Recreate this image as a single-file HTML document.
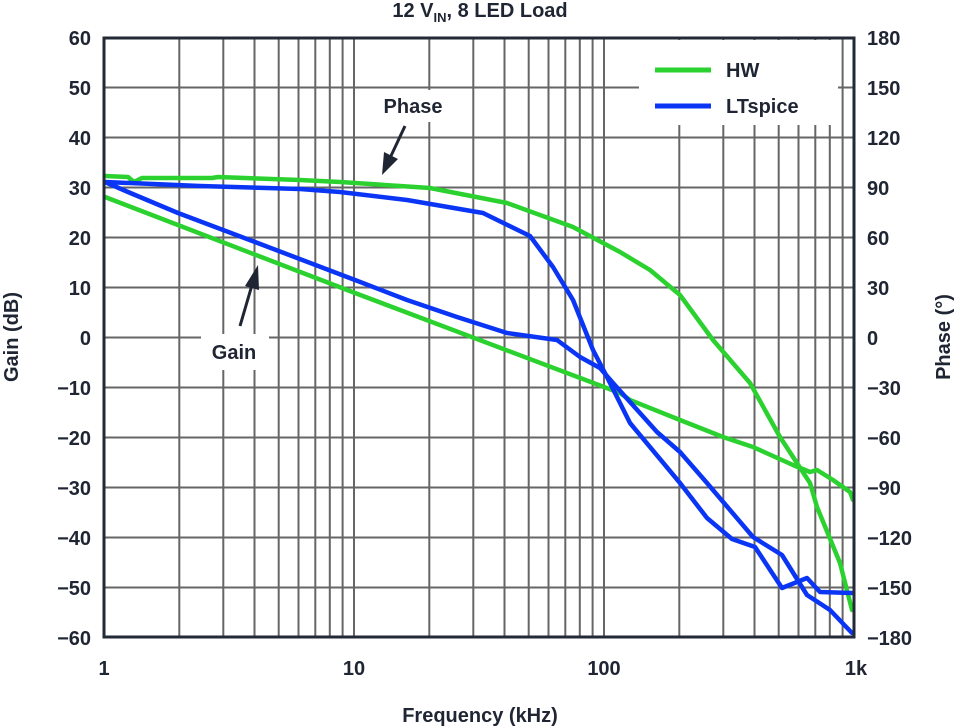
<!DOCTYPE html>
<html><head><meta charset="utf-8"><style>
html,body{margin:0;padding:0;background:#fff;}
svg{display:block;font-family:"Liberation Sans",sans-serif;font-weight:bold;}
</style></head><body>
<svg width="957" height="728" viewBox="0 0 957 728" xmlns="http://www.w3.org/2000/svg">
<rect width="957" height="728" fill="#fff"/>
<g stroke="#666" stroke-width="2">
<!-- horizontal grid -->
<line x1="104" x2="854" y1="87.5" y2="87.5"/><line x1="104" x2="854" y1="137.5" y2="137.5"/>
<line x1="104" x2="854" y1="187.5" y2="187.5"/><line x1="104" x2="854" y1="237.5" y2="237.5"/>
<line x1="104" x2="854" y1="287.5" y2="287.5"/><line x1="104" x2="854" y1="337.5" y2="337.5"/>
<line x1="104" x2="854" y1="387.5" y2="387.5"/><line x1="104" x2="854" y1="437.5" y2="437.5"/>
<line x1="104" x2="854" y1="487.5" y2="487.5"/><line x1="104" x2="854" y1="537.5" y2="537.5"/>
<line x1="104" x2="854" y1="587.5" y2="587.5"/>
<!-- vertical grid -->
<line x1="179.3" x2="179.3" y1="38" y2="637"/><line x1="223.3" x2="223.3" y1="38" y2="637"/><line x1="254.5" x2="254.5" y1="38" y2="637"/><line x1="278.7" x2="278.7" y1="38" y2="637"/><line x1="298.5" x2="298.5" y1="38" y2="637"/><line x1="315.3" x2="315.3" y1="38" y2="637"/><line x1="329.8" x2="329.8" y1="38" y2="637"/><line x1="342.6" x2="342.6" y1="38" y2="637"/>
<line x1="354" x2="354" y1="38" y2="637"/>
<line x1="429.3" x2="429.3" y1="38" y2="637"/><line x1="473.3" x2="473.3" y1="38" y2="637"/><line x1="504.5" x2="504.5" y1="38" y2="637"/><line x1="528.7" x2="528.7" y1="38" y2="637"/><line x1="548.5" x2="548.5" y1="38" y2="637"/><line x1="565.3" x2="565.3" y1="38" y2="637"/><line x1="579.8" x2="579.8" y1="38" y2="637"/><line x1="592.6" x2="592.6" y1="38" y2="637"/>
<line x1="604" x2="604" y1="38" y2="637"/>
<line x1="679.3" x2="679.3" y1="38" y2="637"/><line x1="723.3" x2="723.3" y1="38" y2="637"/><line x1="754.5" x2="754.5" y1="38" y2="637"/><line x1="778.7" x2="778.7" y1="38" y2="637"/><line x1="798.5" x2="798.5" y1="38" y2="637"/><line x1="815.3" x2="815.3" y1="38" y2="637"/><line x1="829.8" x2="829.8" y1="38" y2="637"/><line x1="842.6" x2="842.6" y1="38" y2="637"/>
</g>
<!-- white boxes -->
<rect x="639" y="40" width="199" height="85" fill="#fff"/>
<rect x="376" y="90" width="76" height="32" fill="#fff"/>
<rect x="201" y="334" width="68" height="36" fill="#fff"/>
<!-- curves -->
<g fill="none" stroke-width="4.5" stroke-linejoin="round" stroke-linecap="round">
<polyline stroke="#2bd12f" points="105,197 355,293 620,393 630,400 680,420 723,437 753,447 793,465 810,472 817,470 833,480 850,492 853,500"/>
<polyline stroke="#2bd12f" points="105,176 128,177 134,182 142,178 212,178 218,177 300,180 340,182 430,188 507,203 573,227 620,252 650,270 680,295 713,340 750,383 780,437 810,483 817,507 840,563 852,610"/>
<polyline stroke="#0a35f5" points="105,182 128,192 178,213 255,242 355,280 407,300 457,317 507,333 557,340 580,357 600,368 613,383 657,432 680,452 707,483 753,537 782,555 807,595 830,610 852,633"/>
<polyline stroke="#0a35f5" points="105,182 200,186 300,189 340,192 407,200 483,213 530,236 553,267 573,300 593,350 607,377 630,423 680,483 707,518 732,539 755,547 782,588 807,578 820,592 852,593"/>
</g>
<!-- frame -->
<rect x="104" y="38" width="750" height="599" fill="none" stroke="#222a36" stroke-width="3"/>
<!-- legend -->
<line x1="655" x2="711" y1="70" y2="70" stroke="#2bd12f" stroke-width="5"/>
<line x1="655" x2="711" y1="106" y2="106" stroke="#0a35f5" stroke-width="5"/>
<g fill="#1f2533" font-size="20">
<text x="726" y="77">HW</text>
<text x="726" y="113">LTspice</text>
<text x="413" y="113" text-anchor="middle">Phase</text>
<text x="234" y="359" text-anchor="middle">Gain</text>
</g>
<!-- arrows -->
<g stroke="#1f2533" stroke-width="3" fill="#1f2533">
<line x1="405" y1="126" x2="390" y2="158"/>
<polygon points="382,175 384,152 398,159" stroke="none"/>
<line x1="240" y1="326" x2="252" y2="285"/>
<polygon points="258,265 245,286 259,290" stroke="none"/>
</g>
<!-- axis labels -->
<g fill="#1f2533" font-size="20" text-anchor="end">
<text x="91" y="45">60</text><text x="91" y="95">50</text><text x="91" y="145">40</text><text x="91" y="195">30</text><text x="91" y="245">20</text><text x="91" y="295">10</text><text x="91" y="345">0</text><text x="91" y="395">−10</text><text x="91" y="445">−20</text><text x="91" y="495">−30</text><text x="91" y="545">−40</text><text x="91" y="595">−50</text><text x="91" y="645">−60</text>
</g>
<g fill="#1f2533" font-size="20" text-anchor="start">
<text x="867" y="45">180</text><text x="867" y="95">150</text><text x="867" y="145">120</text><text x="867" y="195">90</text><text x="867" y="245">60</text><text x="867" y="295">30</text><text x="867" y="345">0</text><text x="867" y="395">−30</text><text x="867" y="445">−60</text><text x="867" y="495">−90</text><text x="867" y="545">−120</text><text x="867" y="595">−150</text><text x="867" y="645">−180</text>
</g>
<g fill="#1f2533" font-size="20" text-anchor="middle">
<text x="104" y="675">1</text><text x="354" y="675">10</text><text x="604" y="675">100</text><text x="856" y="675">1k</text>
<text x="480" y="722">Frequency (kHz)</text>
<text x="480" y="17">12 V<tspan font-size="13" dy="5">IN</tspan><tspan dy="-5">, 8 LED Load</tspan></text>
<text transform="translate(18,337) rotate(-90)">Gain (dB)</text>
<text transform="translate(950,337) rotate(-90)">Phase (°)</text>
</g>
</svg>
</body></html>
